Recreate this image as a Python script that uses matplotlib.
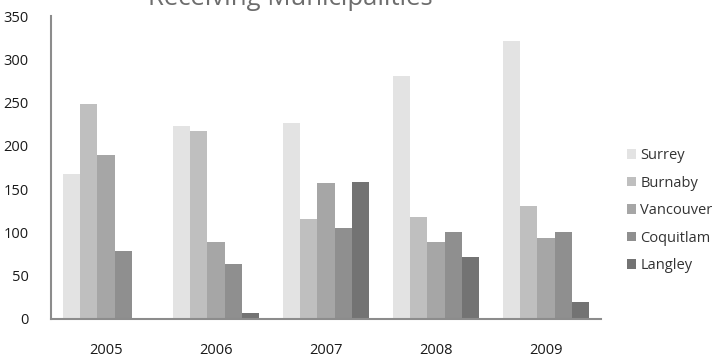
import matplotlib
matplotlib.use("Agg")
import matplotlib.pyplot as plt
import numpy as np

years = ["2005", "2006", "2007", "2008", "2009"]
municipalities = ["Surrey", "Burnaby", "Vancouver", "Coquitlam", "Langley"]
surrey = [167, 223, 226, 281, 321]
burnaby = [248, 217, 115, 118, 131]
vancouver = [189, 89, 157, 89, 93]
coquitlam = [79, 63, 105, 101, 100]
langley = [0, 7, 158, 72, 20]
series = [surrey, burnaby, vancouver, coquitlam, langley]
colors = ["#e3e3e3", "#bfbfbf", "#a6a6a6", "#8f8f8f", "#737373"]

plt.rcParams["font.family"] = ["Open Sans", "DejaVu Sans"]

fig = plt.figure(figsize=(7.18, 3.58), dpi=100)
ax = fig.add_axes([51 / 718, 1 - 319 / 358, 550 / 718, 303 / 358])

x = np.arange(len(years))
width = 0.155
for i, (name, vals, c) in enumerate(zip(municipalities, series, colors)):
    ax.bar(x + (i - 2) * width, vals, width, color=c, label=name, linewidth=0)

ax.set_xlim(-0.5, len(years) - 0.5)
ax.set_ylim(0, 350)
ax.set_yticks(range(0, 351, 50))
ax.set_xticks(x)
ax.set_xticklabels(years)
ax.tick_params(axis="both", length=0, labelsize=10.5, colors="#1a1a1a")
ax.tick_params(axis="y", pad=16)
ax.tick_params(axis="x", pad=17)

for side in ("top", "right"):
    ax.spines[side].set_visible(False)
for side in ("left", "bottom"):
    ax.spines[side].set_color("#8c8c8c")
    ax.spines[side].set_linewidth(1.5)

fig.text(290 / 718, 1 - 5 / 358, "Receiving Municipalities", ha="center",
         va="baseline", fontsize=18.5, color="#6d6d6d")

leg = fig.legend(loc="upper left", bbox_to_anchor=(627 / 718, 1 - 148 / 358),
                 frameon=False, fontsize=10.5, handlelength=0.62,
                 handleheight=0.62, handletextpad=0.3, labelspacing=0.86,
                 borderaxespad=0, borderpad=0)
for t in leg.get_texts():
    t.set_color("#333333")

fig.savefig("out.png", dpi=100)
